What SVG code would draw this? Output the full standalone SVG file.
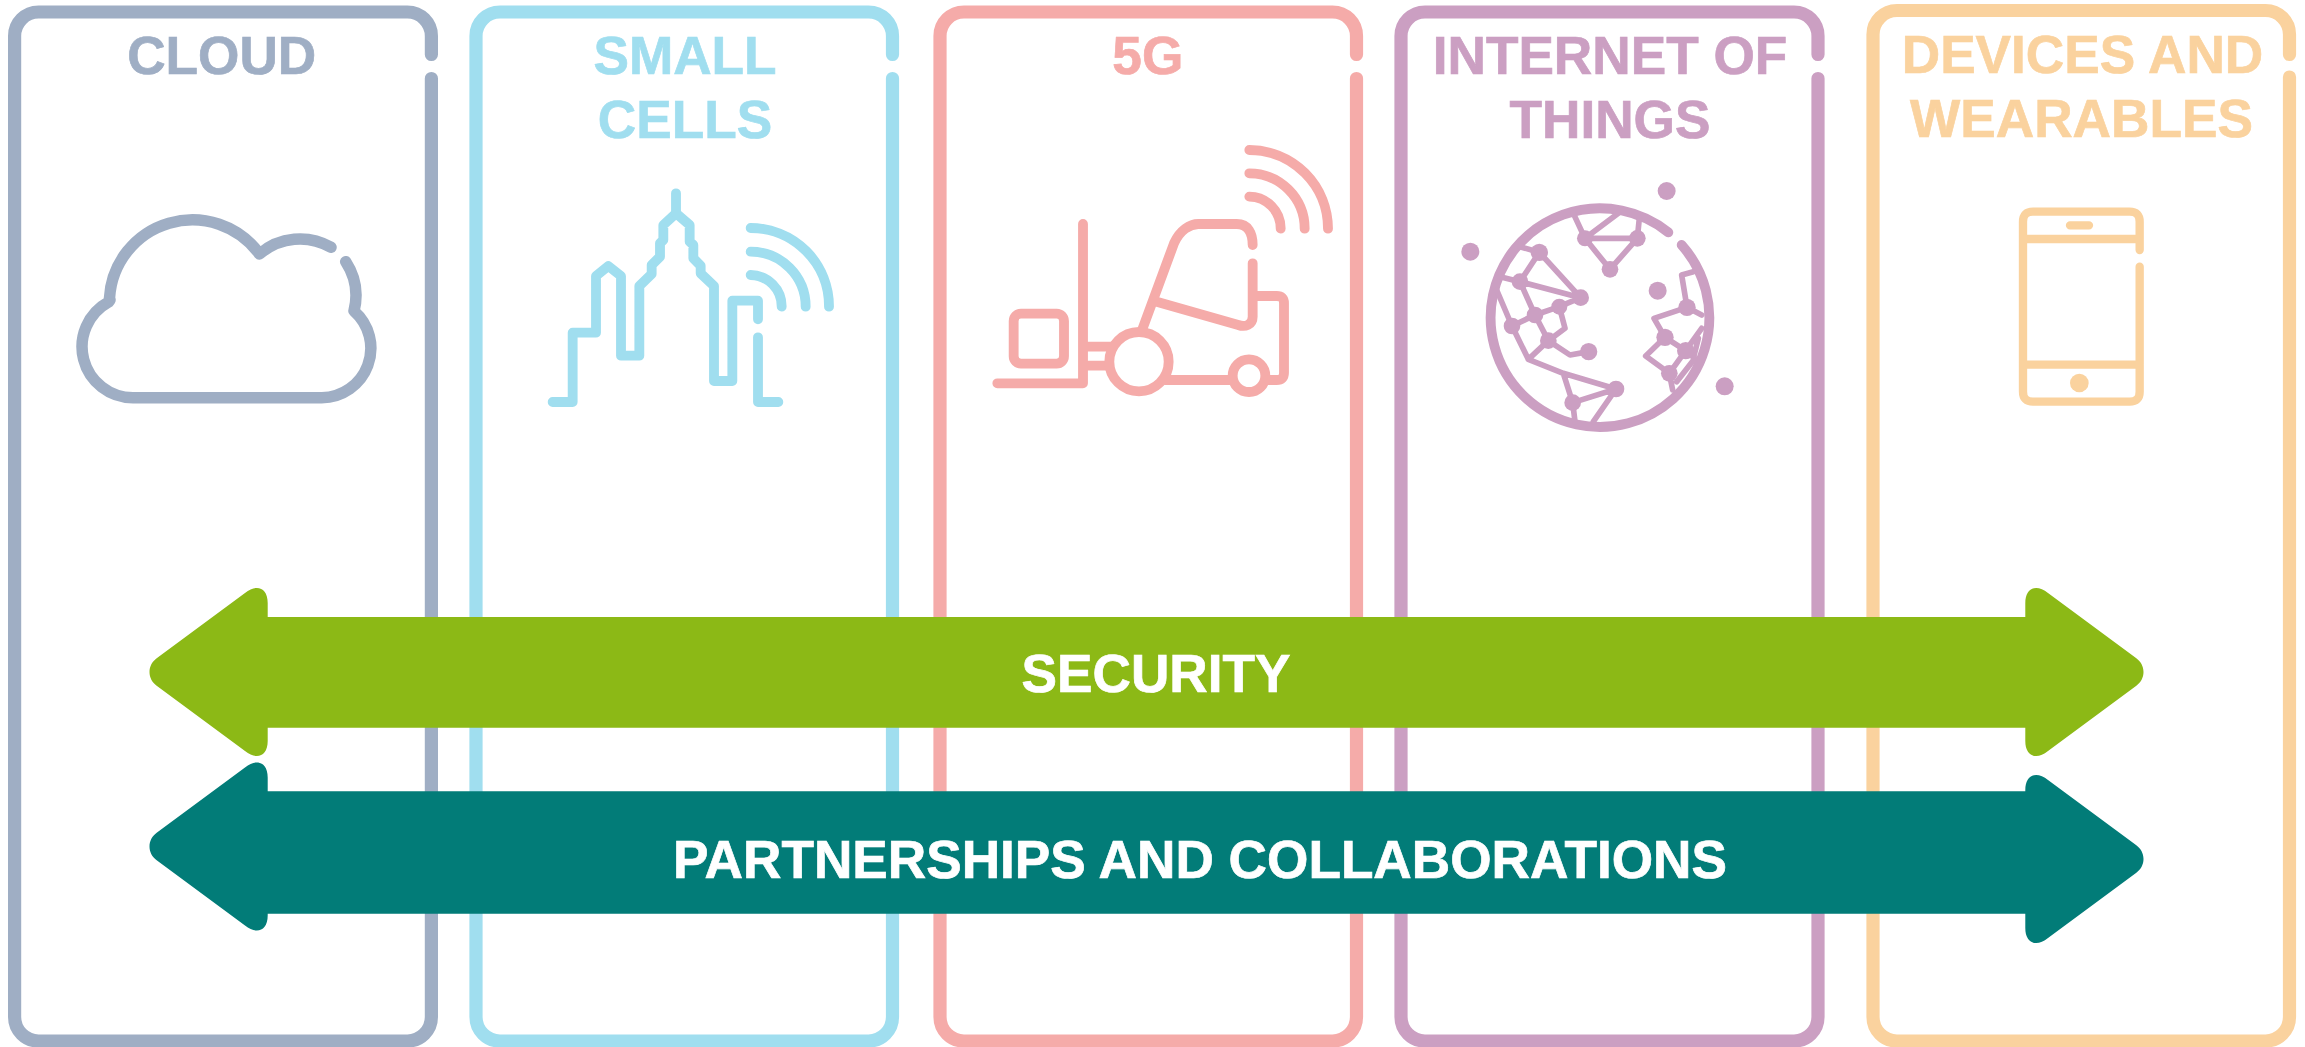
<svg xmlns="http://www.w3.org/2000/svg" width="2305" height="1047" viewBox="0 0 2305 1047">
<style>
text{font-family:"Liberation Sans",Arial,sans-serif;font-weight:700;font-size:53.2px;text-anchor:middle;stroke-width:.7}
.p{fill:none;stroke-width:13.2;stroke-linecap:round;stroke-linejoin:round}
.i{fill:none;stroke-width:29.5;stroke-linecap:round;stroke-linejoin:round}
.n{fill:none;stroke-width:17;stroke-linecap:round;stroke-linejoin:round}
.c1{stroke:#9FAEC4}.c2{stroke:#A0DEEF}.c3{stroke:#F5ABA9}.c4{stroke:#CB9FC2}.c5{stroke:#FAD29E}
.t1{fill:#9FAEC4}.t2{fill:#A0DEEF}.t3{fill:#F5ABA9}.t4{fill:#CB9FC2}.t5{fill:#FAD29E}
.w{fill:#fff;stroke:#fff}
</style>
<rect width="2305" height="1047" fill="#fff"/>
<g id="panel-cloud">
<path class="p c1" d="M431.4 54.5V36A24 24 0 0 0 407.4 12H38.600A24 24 0 0 0 14.6 36V1017A24 24 0 0 0 38.600 1041H407.4A24 24 0 0 0 431.4 1017V78.5"/>
<text class="t1 c1" x="221.7" y="73.5">CLOUD</text>
<path class="i c1" style="stroke-width:11.500" d="M331 247.3A62 62 0 0 0 259.5 254A83 83 0 0 0 109.5 298L110 300L108.5 302A51 51 0 0 0 133 397.7H321.7A49.5 49.5 0 0 0 354 311C358 295 357 279 345.7 261.7"/>
</g>
<g id="panel-small-cells">
<path class="p c2" d="M892.5 54.5V36A24 24 0 0 0 868.5 12H500A24 24 0 0 0 476 36V1017A24 24 0 0 0 500 1041H868.5A24 24 0 0 0 892.5 1017V78.5"/>
<text class="t2 c2" x="685" y="73.5">SMALL</text>
<text class="t2 c2" x="685" y="137.5">CELLS</text>
<g transform="translate(460 0) scale(.33333)">
<path class="i c2" d="M278 1206H338V998H408V828L445 798L483 828V1067H538V858L575 822V795L600 770V730L610 720V675L648 640L689 675V725L700 735V775L722 797V820L762 858V1143H817V902H894V958"/>
<path class="i c2" d="M894 1012V1206H955M648 580V640M872 684A235 235 0 0 1 1107 920M872 755A165 165 0 0 1 1037 920M872 825A94 94 0 0 1 965 920"/>
</g>
</g>
<g id="panel-5g">
<path class="p c3" d="M1356.5 54.5V36A24 24 0 0 0 1332.5 12H964A24 24 0 0 0 940 36V1017A24 24 0 0 0 964 1041H1332.5A24 24 0 0 0 1356.5 1017V78.5"/>
<text class="t3 c3" x="1147.8" y="73.5">5G</text>
<g transform="translate(920 0) scale(.33333)">
<path class="i c3" d="M988 450A236 236 0 0 1 1224 686M988 520A166 166 0 0 1 1154 686M988 590A95 95 0 0 1 1082 686M489 672V1150H232M489 1040H575M489 1097H565"/>
<rect class="i c3" x="281" y="941" width="151" height="150" rx="22"/>
<circle class="i c3" cx="657" cy="1085" r="89"/>
<circle class="i c3" cx="987" cy="1127" r="49"/>
<path class="i c3" d="M735 1140H935M1045 1140H1070Q1092 1140 1092 1118V910Q1092 888 1070 888H1000M668 985L762 730C780 690 810 672 835 672H950C985 672 998 700 998 735M998 790V950C998 975 975 982 955 975L710 905"/>
</g>
</g>
<g id="panel-iot">
<path class="p c4" d="M1818 54.5V36A24 24 0 0 0 1794 12H1425A24 24 0 0 0 1401 36V1017A24 24 0 0 0 1425 1041H1794A24 24 0 0 0 1818 1017V78.5"/>
<text class="t4 c4" x="1610" y="73.5">INTERNET OF</text>
<text class="t4 c4" x="1610" y="137.5">THINGS</text>
<g transform="translate(1380 0) scale(.33333)">
<path class="i c4" d="M865 697A328 328 0 1 0 905 735"/>
<path class="n c4" d="M580 640L615 715L715 640M615 715H772L778 655M615 715L690 808L772 715M420 740L478 757L420 845M478 757L602 893L420 845L360 830M420 845L465 945L538 920L602 893M465 945L396 978L350 870M396 978L445 1078L505 1022L465 945M538 920L555 985L505 1022L570 1065L626 1055M445 1078L550 1120L708 1167L578 1208L550 1120M708 1167L640 1265M578 1208L585 1265M940 815L905 825L921 922L965 945M921 922L822 955L855 1012L917 1052L868 1120L797 1068L855 1012M917 1052L965 985M917 1052L945 1075L890 1145M868 1120L878 1170M955 1015L940 1075"/>
<g class="t4">
<circle cx="615" cy="715" r="24"/><circle cx="772" cy="715" r="25"/><circle cx="690" cy="808" r="25"/>
<circle cx="478" cy="757" r="26"/><circle cx="420" cy="845" r="25"/><circle cx="602" cy="893" r="25"/>
<circle cx="538" cy="920" r="24"/><circle cx="465" cy="945" r="25"/><circle cx="396" cy="978" r="25"/>
<circle cx="505" cy="1022" r="25"/><circle cx="626" cy="1055" r="26"/><circle cx="708" cy="1167" r="25"/>
<circle cx="578" cy="1208" r="25"/><circle cx="921" cy="922" r="26"/><circle cx="855" cy="1012" r="26"/>
<circle cx="917" cy="1052" r="26"/><circle cx="868" cy="1120" r="25"/><circle cx="833" cy="872" r="27"/>
<circle cx="860" cy="573" r="27"/><circle cx="271" cy="755" r="27"/><circle cx="1034" cy="1159" r="27"/>
</g>
</g>
</g>
<g id="panel-devices">
<path class="p c5" d="M2289.5 54.5V34.5A24 24 0 0 0 2265.5 10.5H1897A24 24 0 0 0 1873 34.5V1017A24 24 0 0 0 1897 1041H2265.5A24 24 0 0 0 2289.5 1017V77"/>
<text class="t5 c5" x="2082.5" y="72.5">DEVICES AND</text>
<text class="t5 c5" x="2081.5" y="136.5">WEARABLES</text>
<g transform="translate(1840 0) scale(.33333)">
<path class="i c5" style="stroke-width:25" d="M899 750V665Q899 635 869 635H579Q549 635 549 665V1175Q549 1205 579 1205H869Q899 1205 899 1175V800M549 717H899M549 1094H899M690 676H747"/>
<circle class="t5" cx="718" cy="1149" r="28"/>
</g>
</g>
<g id="connectors">
<g id="arrow-security">
<path fill="#8CB916" d="M267.7 617V603C267.7 587 256 584 245 593L157 658C147 665 147 679 157 686L245 751C256 760 267.7 757 267.7 741V727.7H2025.3V741C2025.3 757 2037 760 2048 751L2136 686C2146 679 2146 665 2136 658L2048 593C2037 584 2025.3 587 2025.3 603V617Z"/>
<text class="w" x="1156" y="692">SECURITY</text>
</g>
<g id="arrow-partnerships">
<path fill="#027C78" d="M267.7 791.3V777.5C267.7 761.5 256 758.5 245 767.5L157 832.5C147 839.5 147 853.5 157 860.5L245 925.5C256 934.5 267.7 931.5 267.7 915.5V913.7H2025.3V928C2025.3 944 2037 947 2048 938L2136 873C2146 866 2146 852 2136 845L2048 780C2037 771 2025.3 774 2025.3 790V791.3Z"/>
<text class="w" x="1200" y="878">PARTNERSHIPS AND COLLABORATIONS</text>
</g>
</g>
</svg>
